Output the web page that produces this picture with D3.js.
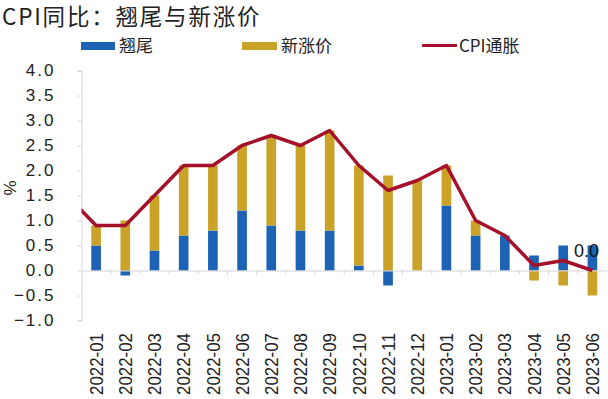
<!DOCTYPE html>
<html>
<head>
<meta charset="utf-8">
<script src="https://cdn.jsdelivr.net/npm/d3@7"></script>
<style>
  body { margin: 0; background: #fff; }
  svg { display: block; }
</style>
</head>
<body>
<div id="chart"></div>
<script>
// months shown on the axis
const months = ["2022-01", "2022-02", "2022-03", "2022-04", "2022-05", "2022-06",
    "2022-07", "2022-08", "2022-09", "2022-10", "2022-11", "2022-12",
    "2023-01", "2023-02", "2023-03", "2023-04", "2023-05", "2023-06"];
// 翘尾
const carryover = [0.5, -0.1, 0.4, 0.7, 0.8, 1.2, 0.9, 0.8, 0.8, 0.1, -0.3, 0.0,
    1.3, 0.7, 0.7, 0.3, 0.5, 0.5];
// 新涨价
const newPrice = [0.4, 1.0, 1.1, 1.4, 1.3, 1.3, 1.8, 1.7, 2.0, 2.0, 1.9, 1.8,
    0.8, 0.3, 0.0, -0.2, -0.3, -0.5];
// CPI通胀 (the line also runs in from 2021-12, cut at the plot edge)
const prevMonth = "2021-12";
const prevCpi = 1.5;
const cpi = [0.9, 0.9, 1.5, 2.1, 2.1, 2.5, 2.7, 2.5, 2.8, 2.1, 1.6, 1.8,
    2.1, 1.0, 0.7, 0.1, 0.2, 0.0];
const yTicks = [-1.0, -0.5, 0.0, 0.5, 1.0, 1.5, 2.0, 2.5, 3.0, 3.5, 4.0];

const width = 608, height = 399;
const plotLeft = 81.5, plotRight = 607, plotTop = 70.5, plotBottom = 320.5;

const blue = "#1c62b5", gold = "#c9a227", red = "#a5102b", axisGray = "#d4d4d4";
const numFont = "'Liberation Sans', Arial, sans-serif";
const cjkFont = "'Noto Sans CJK SC', sans-serif";

const svg = d3.select("#chart").append("svg")
    .attr("width", width)
    .attr("height", height);

const x = d3.scaleBand().domain(months).range([plotLeft, plotRight]);
const y = d3.scaleLinear().domain([-1, 4]).range([plotBottom, plotTop]);
const barW = x.bandwidth() * 0.33;
const cx = m => m === prevMonth ? x(months[0]) - x.step() / 2 : x(m) + x.bandwidth() / 2;

// title
svg.append("text")
    .attr("x", 2).attr("y", 25)
    .attr("font-family", cjkFont)
    .attr("font-size", 22.5)
    .attr("letter-spacing", 1.8)
    .attr("fill", "#222")
    .text("CPI同比：翘尾与新涨价");

// legend
const legend = svg.append("g").attr("font-family", cjkFont).attr("font-size", 17).attr("fill", "#222");
legend.append("rect").attr("x", 81).attr("y", 42).attr("width", 34).attr("height", 8).attr("fill", blue);
legend.append("text").attr("x", 119).attr("y", 52).text("翘尾");
legend.append("rect").attr("x", 242).attr("y", 42).attr("width", 35).attr("height", 8).attr("fill", gold);
legend.append("text").attr("x", 281).attr("y", 52).text("新涨价");
legend.append("line").attr("x1", 422).attr("x2", 457).attr("y1", 45.5).attr("y2", 45.5)
    .attr("stroke", red).attr("stroke-width", 3);
legend.append("text").attr("x", 459).attr("y", 52).text("CPI通胀");

// y axis
const yAxis = svg.append("g")
    .attr("transform", `translate(${plotLeft},0)`)
    .call(d3.axisLeft(y).tickValues(yTicks).tickFormat(d3.format(".1f")).tickSize(4).tickPadding(22));
yAxis.select(".domain").attr("stroke", axisGray);
yAxis.selectAll(".tick line").attr("stroke", axisGray);
yAxis.selectAll(".tick text")
    .attr("font-family", numFont)
    .attr("font-size", 17)
    .attr("letter-spacing", 2)
    .attr("fill", "#222");

svg.append("text")
    .attr("transform", `translate(16,188) rotate(-90)`)
    .attr("text-anchor", "middle")
    .attr("font-family", numFont)
    .attr("font-size", 17)
    .attr("fill", "#222")
    .text("%");

// stacked bars
const rows = months.map((m, i) => ({ month: m, carryover: carryover[i], newPrice: newPrice[i] }));
const series = d3.stack()
    .keys(["carryover", "newPrice"])
    .offset(d3.stackOffsetDiverging)(rows);
const color = d3.scaleOrdinal().domain(["carryover", "newPrice"]).range([blue, gold]);

svg.append("g").selectAll("g")
    .data(series)
    .join("g")
    .attr("fill", d => color(d.key))
    .selectAll("rect")
    .data(d => d)
    .join("rect")
    .attr("x", d => cx(d.data.month) - barW / 2)
    .attr("width", barW)
    .attr("y", d => y(Math.max(d[0], d[1])))
    .attr("height", d => Math.abs(y(d[0]) - y(d[1])));

// zero line with category ticks
const xAxis = svg.append("g")
    .attr("transform", `translate(0,${y(0)})`)
    .call(d3.axisBottom(x).tickSize(0).tickFormat(""));
xAxis.select(".domain").attr("stroke", axisGray);
xAxis.selectAll(".tick").remove();
xAxis.selectAll(".sep")
    .data(months.slice(1))
    .join("line")
    .attr("x1", d => x(d)).attr("x2", d => x(d))
    .attr("y1", 0).attr("y2", 4)
    .attr("stroke", axisGray);

// month labels
svg.append("g").selectAll("text")
    .data(months)
    .join("text")
    .attr("transform", d => `translate(${cx(d)},333) rotate(-90)`)
    .attr("text-anchor", "end")
    .attr("dy", "0.36em")
    .attr("font-family", numFont)
    .attr("font-size", 18.5)
    .attr("textLength", 62)
    .attr("lengthAdjust", "spacingAndGlyphs")
    .attr("fill", "#222")
    .text(d => d);

// CPI line, clipped to the plot
svg.append("clipPath").attr("id", "plot-clip")
    .append("rect")
    .attr("x", plotLeft).attr("y", 0)
    .attr("width", plotRight - plotLeft).attr("height", height);

const lineData = [{ month: prevMonth, value: prevCpi }]
    .concat(months.map((m, i) => ({ month: m, value: cpi[i] })));
const line = d3.line().x(d => cx(d.month)).y(d => y(d.value));

svg.append("path")
    .datum(lineData)
    .attr("clip-path", "url(#plot-clip)")
    .attr("fill", "none")
    .attr("stroke", red)
    .attr("stroke-width", 3.5)
    .attr("stroke-linejoin", "round")
    .attr("d", line);

// label on the last CPI point
const last = lineData[lineData.length - 1];
svg.append("text")
    .attr("x", cx(last.month) - 6)
    .attr("y", y(last.value) - 14)
    .attr("text-anchor", "middle")
    .attr("font-family", numFont)
    .attr("font-size", 18)
    .attr("fill", "#111")
    .text(d3.format(".1f")(last.value));
</script>
</body>
</html>
